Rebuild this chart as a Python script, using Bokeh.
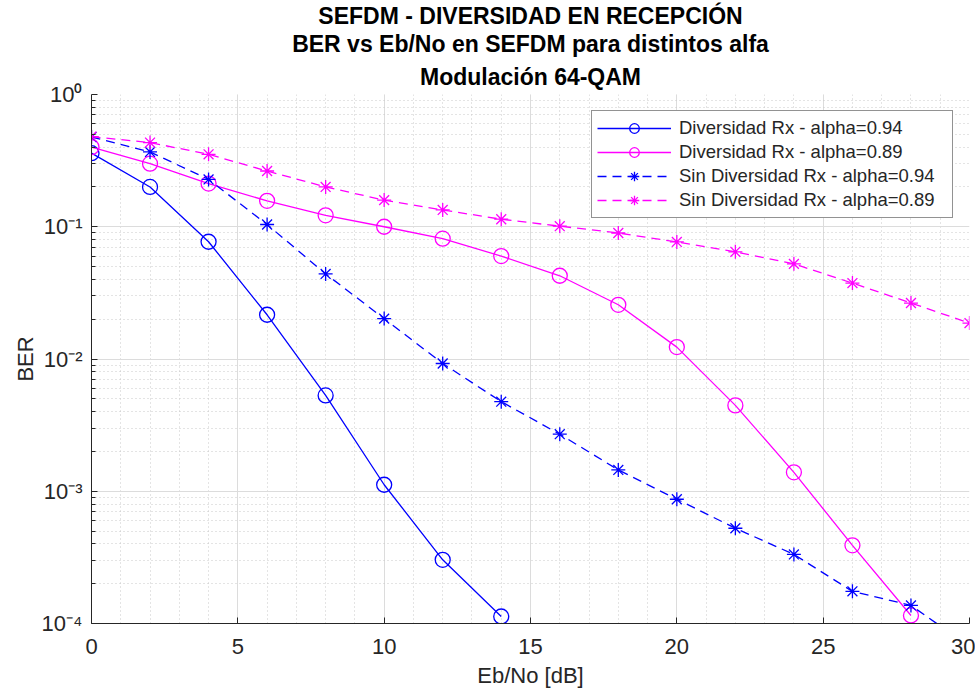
from bokeh.plotting import figure
from bokeh.models import (FixedTicker, SingleIntervalTicker, Range1d,
                          CustomJSTickFormatter, Legend, Title)
from bokeh.embed import file_html
from bokeh.resources import INLINE

# ---- data ----
ebno_div094 = [0, 2, 4, 6, 8, 10, 12, 14]
ber_div094 = [0.36, 0.20, 0.077, 0.0216, 0.0053, 0.00112, 0.000303, 0.000113]

ebno_div089 = [0, 2, 4, 6, 8, 10, 12, 14, 16, 18, 20, 22, 24, 26, 28]
ber_div089 = [0.40, 0.30, 0.212, 0.157, 0.122, 0.100, 0.0813, 0.060, 0.0426,
              0.0257, 0.0123, 0.00446, 0.00139, 0.00039, 0.000115]

ebno_sin = [0, 2, 4, 6, 8, 10, 12, 14, 16, 18, 20, 22, 24, 26, 28, 30]
ber_sin094 = [0.477, 0.368, 0.228, 0.104, 0.044, 0.0202, 0.00925, 0.00476,
              0.0027, 0.00145, 0.00087, 0.000525, 0.000333, 0.000175,
              0.000137, 0.000067]
ber_sin089 = [0.48, 0.433, 0.353, 0.264, 0.20, 0.159, 0.134, 0.114, 0.101,
              0.0897, 0.0768, 0.0646, 0.0524, 0.0375, 0.0265, 0.0187]

labels = ["Diversidad Rx - alpha=0.94", "Diversidad Rx - alpha=0.89",
          "Sin Diversidad Rx - alpha=0.94", "Sin Diversidad Rx - alpha=0.89"]
title_lines = ["SEFDM - DIVERSIDAD EN RECEPCIÓN",
               "BER vs Eb/No en SEFDM para distintos alfa",
               "Modulación 64-QAM"]
x_label = "Eb/No [dB]"
y_label = "BER"
y_exponents = [-4, -3, -2, -1, 0]
y_minor = [k * 10.0 ** e for e in range(-4, 0) for k in range(2, 10)]

FONT = "Liberation Sans"
TXT = "#262626"
BLUE = "#0000ff"
MAG = "#ff00ff"

p = figure(width=975, height=690,
           y_axis_type="log",
           x_range=Range1d(0, 30), y_range=Range1d(1e-4, 1.0),
           output_backend="svg", toolbar_location=None,
           min_border_left=91, min_border_right=6,
           min_border_top=80, min_border_bottom=62)

# title: three centred lines (added nearest-first)
for txt, so in zip(reversed(title_lines), [10, 0, 0]):
    p.add_layout(Title(text=txt, align="center", text_font=FONT,
                       text_font_size="23px", text_font_style="bold",
                       text_color="#000000", standoff=so), "above")

p.outline_line_color = None
p.background_fill_color = "white"
p.border_fill_color = "white"

# x axis
p.xaxis.ticker = SingleIntervalTicker(interval=5, num_minor_ticks=5)
p.xaxis.axis_label = x_label
# y axis
p.yaxis.ticker = FixedTicker(ticks=[10.0 ** e for e in y_exponents],
                             minor_ticks=y_minor)
p.yaxis.axis_label = y_label
p.yaxis.formatter = CustomJSTickFormatter(code="""
const e = Math.round(Math.log10(tick));
const sup = {"0":"\\u2070","1":"\\u00b9","2":"\\u00b2","3":"\\u00b3","4":"\\u2074",
             "5":"\\u2075","6":"\\u2076","7":"\\u2077","8":"\\u2078","9":"\\u2079","-":"\\u207b"};
return "10" + String(e).split("").map(c => sup[c]).join("");
""")

for ax in (p.xaxis, p.yaxis):
    ax.axis_line_color = TXT
    ax.axis_line_width = 1
    ax.major_tick_line_color = TXT
    ax.minor_tick_line_color = TXT
    ax.major_tick_in = 6
    ax.major_tick_out = 0
    ax.minor_tick_out = 0
    ax.major_label_text_font = FONT
    ax.major_label_text_font_size = "22px"
    ax.major_label_text_color = TXT
    ax.axis_label_text_font = FONT
    ax.axis_label_text_font_size = "22px"
    ax.axis_label_text_font_style = "normal"
    ax.axis_label_text_color = TXT
p.xaxis.minor_tick_in = 0
p.yaxis.minor_tick_in = 4
p.xaxis.major_label_standoff = 15
p.xaxis.axis_label_standoff = 6
p.yaxis.major_label_standoff = 9
p.yaxis.axis_label_standoff = 1

for g in (p.xgrid, p.ygrid):
    g.grid_line_color = "#dcdcdc"
    g.grid_line_width = 1
    g.minor_grid_line_color = "#c8c8c8"
    g.minor_grid_line_dash = "1 3"
    g.minor_grid_line_width = 1

# ---- series ----
LW = 1.3
l1 = p.line(ebno_div094, ber_div094, line_color=BLUE, line_width=LW)
s1 = p.scatter(ebno_div094, ber_div094, marker="circle", size=15,
               fill_color=None, line_color=BLUE, line_width=LW)
l2 = p.line(ebno_div089, ber_div089, line_color=MAG, line_width=LW)
s2 = p.scatter(ebno_div089, ber_div089, marker="circle", size=15,
               fill_color=None, line_color=MAG, line_width=LW)
l3 = p.line(ebno_sin, ber_sin094, line_color=BLUE, line_width=LW,
            line_dash="9 6")
s3 = p.scatter(ebno_sin, ber_sin094, marker="asterisk", size=14,
               line_color=BLUE, line_width=LW)
l4 = p.line(ebno_sin, ber_sin089, line_color=MAG, line_width=LW,
            line_dash="9 6")
s4 = p.scatter(ebno_sin, ber_sin089, marker="asterisk", size=14,
               line_color=MAG, line_width=LW)

legend = Legend(items=[(labels[0], [l1, s1]), (labels[1], [l2, s2]),
                       (labels[2], [l3, s3]), (labels[3], [l4, s4])],
                location="top_right")
legend.margin = 16
legend.padding = 5
legend.spacing = 0
legend.glyph_width = 74
legend.glyph_height = 24
legend.label_standoff = 8
legend.label_width = 268
legend.label_height = 24
legend.label_text_font = FONT
legend.label_text_font_size = "18.5px"
legend.label_text_color = TXT
legend.border_line_color = TXT
legend.border_line_width = 1
legend.background_fill_color = "white"
legend.background_fill_alpha = 1.0
p.add_layout(legend, "center")

open("out.html", "w", encoding="utf-8").write(file_html(p, INLINE))
